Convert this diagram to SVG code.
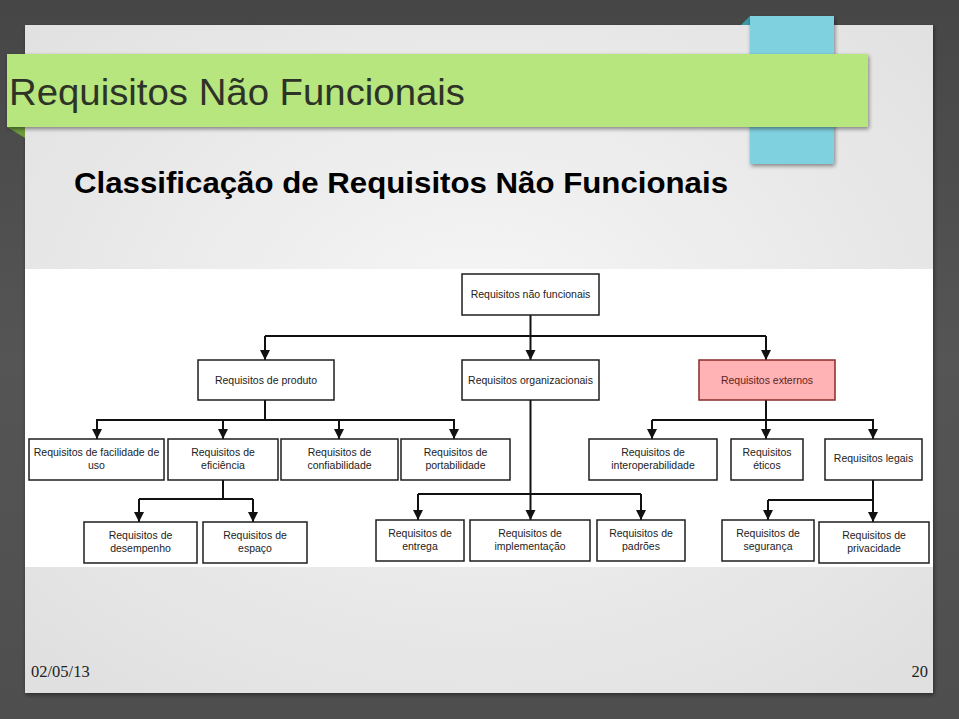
<svg xmlns="http://www.w3.org/2000/svg" width="959" height="719" viewBox="0 0 959 719">
<defs>
  <radialGradient id="slideGrad" cx="0.5" cy="0.45" r="0.7">
    <stop offset="0" stop-color="#f6f6f6"/>
    <stop offset="1" stop-color="#e0e0e0"/>
  </radialGradient>
  <linearGradient id="bgGrad" x1="0" y1="0" x2="0" y2="1">
    <stop offset="0" stop-color="#464646"/>
    <stop offset="0.5" stop-color="#555555"/>
    <stop offset="1" stop-color="#4e4e4e"/>
  </linearGradient>
  <filter id="shadow" x="-5%" y="-5%" width="110%" height="115%">
    <feGaussianBlur in="SourceAlpha" stdDeviation="2"/>
    <feOffset dx="1" dy="2" result="b"/>
    <feComponentTransfer><feFuncA type="linear" slope="0.45"/></feComponentTransfer>
    <feMerge><feMergeNode/><feMergeNode in="SourceGraphic"/></feMerge>
  </filter>
  <marker id="arrow" markerUnits="userSpaceOnUse" markerWidth="12" markerHeight="12" viewBox="0 0 12 12" refX="6" refY="11" orient="auto-start-reverse">
    <path d="M1,1 L11,1 L6,11 Z" fill="#111"/>
  </marker>
  <marker id="arrowDown" markerUnits="userSpaceOnUse" markerWidth="12" markerHeight="12" viewBox="0 0 12 12" refX="6" refY="11" orient="0">
    <path d="M1,1 L11,1 L6,11 Z" fill="#111"/>
  </marker>
  <style>
    .box { fill: #ffffff; stroke: #1e1e1e; stroke-width: 1.5; }
    .ext { fill: #ffb3b5; stroke: #8a2a2a; stroke-width: 1.5; }
    .lbl { font-family: "Liberation Sans", Arial, sans-serif; font-size: 10.5px; fill: #222; text-anchor: middle; }
    .extlbl { fill: #5a1f1f; }
    .conn { stroke: #111; stroke-width: 2; fill: none; }
    .arr { marker-end: url(#arrowDown); }
  </style>
</defs>

<!-- background -->
<rect x="0" y="0" width="959" height="719" fill="url(#bgGrad)"/>

<!-- slide -->
<rect x="25" y="25" width="908" height="668" fill="url(#slideGrad)" filter="url(#shadow)"/>

<!-- blue ribbon -->
<polygon points="741,25 750,16 750,25" fill="#3d9aa6"/>
<rect x="750" y="16" width="84" height="148" fill="#7fd1df" filter="url(#shadow)"/>

<!-- green banner -->
<polygon points="7,127 25,127 25,138" fill="#6d9a3a"/>
<rect x="7" y="54" width="861" height="73" fill="#b6e67d" filter="url(#shadow)"/>
<text x="9" y="105" font-family="Liberation Sans, Arial, sans-serif" font-size="37" fill="#2e3328" textLength="456" lengthAdjust="spacingAndGlyphs">Requisitos Não Funcionais</text>

<!-- subtitle -->
<text x="74" y="193" font-family="Liberation Sans, Arial, sans-serif" font-size="30" font-weight="bold" fill="#000" textLength="654" lengthAdjust="spacingAndGlyphs">Classificação de Requisitos Não Funcionais</text>

<!-- diagram area -->
<rect x="25" y="269" width="908" height="298" fill="#ffffff"/>

<!-- connectors -->
<g id="connectors">
  <path class="conn arr" d="M530.5,315 V360"/>
  <path class="conn" d="M265,336 H766"/>
  <path class="conn arr" d="M265,336 V360"/>
  <path class="conn arr" d="M766,336 V360"/>

  <path class="conn" d="M265,400 V420"/>
  <path class="conn" d="M96,420 H455"/>
  <path class="conn arr" d="M97,420 V439"/>
  <path class="conn arr" d="M223,420 V439"/>
  <path class="conn arr" d="M339,420 V439"/>
  <path class="conn arr" d="M454,420 V439"/>

  <path class="conn" d="M223,480 V499"/>
  <path class="conn" d="M139,499 H253"/>
  <path class="conn arr" d="M139,499 V522"/>
  <path class="conn arr" d="M253,499 V522"/>

  <path class="conn arr" d="M530.5,400 V520"/>
  <path class="conn" d="M418,494 H641"/>
  <path class="conn arr" d="M418,494 V520"/>
  <path class="conn arr" d="M641,494 V520"/>

  <path class="conn" d="M766,400 V420"/>
  <path class="conn" d="M652,420 H874"/>
  <path class="conn arr" d="M652,420 V439"/>
  <path class="conn arr" d="M766,420 V439"/>
  <path class="conn arr" d="M873,420 V439"/>

  <path class="conn arr" d="M873,480 V522"/>
  <path class="conn" d="M768,500 H873"/>
  <path class="conn arr" d="M768,500 V520"/>
</g>

<!-- nodes -->
<g id="node-root"><rect class="box" x="462" y="274" width="137" height="41"/><text class="lbl" x="530.5" y="298">Requisitos não funcionais</text></g>
<g id="node-produto"><rect class="box" x="198" y="360" width="136" height="40"/><text class="lbl" x="266" y="384">Requisitos de produto</text></g>
<g id="node-organizacionais"><rect class="box" x="462" y="360" width="137" height="40"/><text class="lbl" x="530.5" y="384">Requisitos organizacionais</text></g>
<g id="node-externos"><rect class="ext" x="699" y="360" width="136" height="40"/><text class="lbl extlbl" x="767" y="384">Requisitos externos</text></g>

<g id="node-facilidade"><rect class="box" x="29" y="439" width="135" height="41"/><text class="lbl" x="96.5" y="456">Requisitos de facilidade de</text><text class="lbl" x="96.5" y="469">uso</text></g>
<g id="node-eficiencia"><rect class="box" x="168" y="439" width="110" height="41"/><text class="lbl" x="223" y="456">Requisitos de</text><text class="lbl" x="223" y="469">eficiência</text></g>
<g id="node-confiabilidade"><rect class="box" x="281" y="439" width="117" height="41"/><text class="lbl" x="339.5" y="456">Requisitos de</text><text class="lbl" x="339.5" y="469">confiabilidade</text></g>
<g id="node-portabilidade"><rect class="box" x="401" y="439" width="109" height="41"/><text class="lbl" x="455.5" y="456">Requisitos de</text><text class="lbl" x="455.5" y="469">portabilidade</text></g>
<g id="node-interoperabilidade"><rect class="box" x="589" y="439" width="128" height="41"/><text class="lbl" x="653" y="456">Requisitos de</text><text class="lbl" x="653" y="469">interoperabilidade</text></g>
<g id="node-eticos"><rect class="box" x="731" y="439" width="72" height="41"/><text class="lbl" x="767" y="456">Requisitos</text><text class="lbl" x="767" y="469">éticos</text></g>
<g id="node-legais"><rect class="box" x="825" y="439" width="97" height="41"/><text class="lbl" x="873.5" y="462">Requisitos legais</text></g>

<g id="node-desempenho"><rect class="box" x="84" y="522" width="113" height="41"/><text class="lbl" x="140.5" y="539">Requisitos de</text><text class="lbl" x="140.5" y="552">desempenho</text></g>
<g id="node-espaco"><rect class="box" x="203" y="522" width="104" height="41"/><text class="lbl" x="255" y="539">Requisitos de</text><text class="lbl" x="255" y="552">espaço</text></g>
<g id="node-entrega"><rect class="box" x="376" y="520" width="88" height="41"/><text class="lbl" x="420" y="537">Requisitos de</text><text class="lbl" x="420" y="550">entrega</text></g>
<g id="node-implementacao"><rect class="box" x="470" y="520" width="120" height="41"/><text class="lbl" x="530" y="537">Requisitos de</text><text class="lbl" x="530" y="550">implementação</text></g>
<g id="node-padroes"><rect class="box" x="597" y="520" width="88" height="41"/><text class="lbl" x="641" y="537">Requisitos de</text><text class="lbl" x="641" y="550">padrões</text></g>
<g id="node-seguranca"><rect class="box" x="722" y="520" width="92" height="41"/><text class="lbl" x="768" y="537">Requisitos de</text><text class="lbl" x="768" y="550">segurança</text></g>
<g id="node-privacidade"><rect class="box" x="819" y="522" width="110" height="41"/><text class="lbl" x="874" y="539">Requisitos de</text><text class="lbl" x="874" y="552">privacidade</text></g>

<!-- footer -->
<text x="31" y="677" font-family="Liberation Serif, Times New Roman, serif" font-size="16.5" fill="#222">02/05/13</text>
<text x="928" y="677" font-family="Liberation Serif, Times New Roman, serif" font-size="16.5" fill="#222" text-anchor="end">20</text>
</svg>
